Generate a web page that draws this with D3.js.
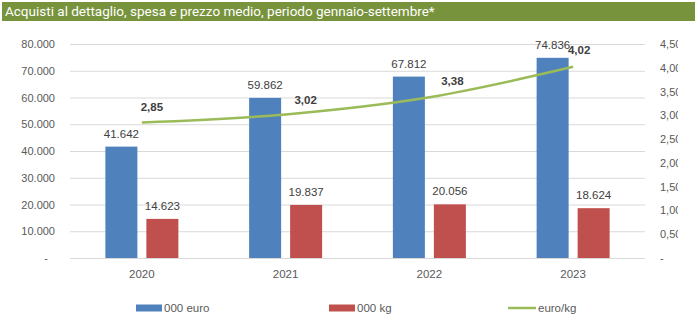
<!DOCTYPE html>
<html>
<head>
<meta charset="utf-8">
<script src="https://cdn.jsdelivr.net/npm/d3@7"></script>
<style>
  body { margin: 0; background: #fff; }
  svg { display: block; }
</style>
</head>
<body>
<svg id="drawing_region"></svg>
<script>
var years = ['2020', '2021', '2022', '2023'];
var spesa = [41642, 59862, 67812, 74836];     // 000 euro
var volumi = [14623, 19837, 20056, 18624];    // 000 kg
var prezzo = [2.85, 3.02, 3.38, 4.02];        // euro/kg
var leftTicks = [0, 10000, 20000, 30000, 40000, 50000, 60000, 70000, 80000];
var rightTicks = [0, 0.5, 1, 1.5, 2, 2.5, 3, 3.5, 4, 4.5];
// hand placed price labels in the original (offset from point)
var prezzoLabelDx = [10, 20, 23, 6];
var prezzoLabelDy = [-15, -14, -16, -17];

var W = 700, H = 325;
var plot = { left: 70, right: 645, top: 44, bottom: 258 };

var svg = d3.select('#drawing_region')
    .attr('width', W)
    .attr('height', H)
    .style('font-family', '"Liberation Sans", Arial, sans-serif');

// title bar
svg.append('rect')
    .attr('x', 2).attr('y', 2)
    .attr('width', 693).attr('height', 19)
    .attr('fill', '#77933C');
svg.append('text')
    .attr('x', 5).attr('y', 16)
    .attr('fill', '#fff')
    .style('font-family', 'Roboto, "Liberation Sans", sans-serif')
    .style('font-size', '13.5px')
    .text('Acquisti al dettaglio, spesa e prezzo medio, periodo gennaio-settembre*');

var x0 = d3.scaleBand().domain(years).range([plot.left, plot.right]);
var yL = d3.scaleLinear().domain([0, 80000]).range([plot.bottom, plot.top]);
var yR = d3.scaleLinear().domain([0, 4.5]).range([plot.bottom, plot.top]);

var fmtL = function(d) { return d === 0 ? '-' : d3.format(',')(d).replace(/,/g, '.'); };
var fmtR = function(d) { return d === 0 ? '-' : d3.format('.2f')(d).replace('.', ','); };

// gridlines
svg.append('g')
    .selectAll('line')
    .data(leftTicks)
    .enter()
    .append('line')
    .attr('x1', plot.left).attr('x2', plot.right)
    .attr('y1', d => yL(d) + 0.5).attr('y2', d => yL(d) + 0.5)
    .attr('stroke', '#D9D9D9')
    .attr('stroke-width', 1);

// left axis
var axL = svg.append('g')
    .attr('transform', 'translate(' + (plot.left - 15) + ',0)')
    .call(d3.axisLeft(yL).tickValues(leftTicks).tickFormat(fmtL).tickSize(0).tickPadding(0));
axL.select('.domain').remove();
axL.selectAll('text')
    .attr('fill', '#595959')
    .style('font-size', '11px')
    .attr('dx', d => d === 0 ? -7 : 0);

// right axis, clipped like the original
svg.append('clipPath').attr('id', 'rclip')
    .append('rect').attr('x', 640).attr('y', 0).attr('width', 38).attr('height', H);
var axR = svg.append('g')
    .attr('clip-path', 'url(#rclip)')
    .append('g')
    .attr('transform', 'translate(' + (plot.right + 15) + ',0)')
    .call(d3.axisRight(yR).tickValues(rightTicks).tickFormat(fmtR).tickSize(0).tickPadding(0));
axR.select('.domain').remove();
axR.selectAll('text')
    .attr('fill', '#595959')
    .style('font-size', '11px');

// x axis labels
var axB = svg.append('g')
    .attr('transform', 'translate(0,' + (plot.bottom + 12) + ')')
    .call(d3.axisBottom(x0).tickSize(0).tickPadding(0));
axB.select('.domain').remove();
axB.selectAll('text')
    .attr('fill', '#595959')
    .style('font-size', '11.5px');

// bars
var barW = 32, gap = 9;
var rows = years.map(function(y, i) { return { year: y, spesa: spesa[i], volumi: volumi[i], prezzo: prezzo[i] }; });
var cx = function(d) { return x0(d.year) + x0.bandwidth() / 2; };

svg.append('g').selectAll('rect')
    .data(rows).enter().append('rect')
    .attr('x', d => cx(d) - gap / 2 - barW)
    .attr('y', d => yL(d.spesa))
    .attr('width', barW)
    .attr('height', d => yL(0) - yL(d.spesa))
    .attr('fill', '#4F81BD');

svg.append('g').selectAll('rect')
    .data(rows).enter().append('rect')
    .attr('x', d => cx(d) + gap / 2)
    .attr('y', d => yL(d.volumi))
    .attr('width', barW)
    .attr('height', d => yL(0) - yL(d.volumi))
    .attr('fill', '#C0504D');

// bottom axis line
svg.append('line')
    .attr('x1', plot.left).attr('x2', plot.right)
    .attr('y1', plot.bottom + 0.5).attr('y2', plot.bottom + 0.5)
    .attr('stroke', '#D9D9D9');

// bar value labels
svg.append('g').selectAll('text')
    .data(rows).enter().append('text')
    .attr('x', d => cx(d) - gap / 2 - barW / 2)
    .attr('y', d => yL(d.spesa) - 9)
    .attr('text-anchor', 'middle')
    .attr('fill', '#404040')
    .style('font-size', '11.5px')
    .text(d => fmtL(d.spesa));

svg.append('g').selectAll('text')
    .data(rows).enter().append('text')
    .attr('x', d => cx(d) + gap / 2 + barW / 2)
    .attr('y', d => yL(d.volumi) - 9)
    .attr('text-anchor', 'middle')
    .attr('fill', '#404040')
    .style('font-size', '11.5px')
    .text(d => fmtL(d.volumi));

// price line
var line = d3.line()
    .x(d => cx(d))
    .y(d => yR(d.prezzo))
    .curve(d3.curveCatmullRom.alpha(0.5));

svg.append('path')
    .datum(rows)
    .attr('d', line)
    .attr('fill', 'none')
    .attr('stroke', '#9BBB59')
    .attr('stroke-width', 2.5);

svg.append('g').selectAll('text')
    .data(rows).enter().append('text')
    .attr('x', (d, i) => cx(d) + prezzoLabelDx[i])
    .attr('y', (d, i) => yR(d.prezzo) + prezzoLabelDy[i] + 4)
    .attr('text-anchor', 'middle')
    .attr('fill', '#404040')
    .style('font-size', '11.5px')
    .style('font-weight', 'bold')
    .text(d => fmtR(d.prezzo));

// legend
var legend = [
    { name: '000 euro', color: '#4F81BD', type: 'rect', x: 136 },
    { name: '000 kg', color: '#C0504D', type: 'rect', x: 329 },
    { name: 'euro/kg', color: '#9BBB59', type: 'line', x: 508 }
];
var lg = svg.append('g').selectAll('g')
    .data(legend).enter().append('g')
    .attr('transform', d => 'translate(' + d.x + ',308)');
lg.filter(d => d.type === 'rect').append('rect')
    .attr('x', 0).attr('y', -3.5).attr('width', 26).attr('height', 7)
    .attr('fill', d => d.color);
lg.filter(d => d.type === 'line').append('line')
    .attr('x1', 0).attr('x2', 28).attr('y1', 0).attr('y2', 0)
    .attr('stroke', d => d.color).attr('stroke-width', 2.5);
lg.append('text')
    .attr('x', d => d.type === 'line' ? 30 : 28)
    .attr('y', 4)
    .attr('fill', '#595959')
    .style('font-size', '11.5px')
    .text(d => d.name);
</script>
</body>
</html>
